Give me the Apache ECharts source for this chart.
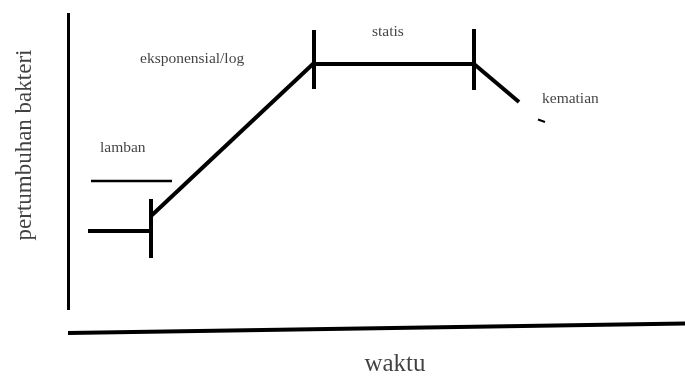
<!DOCTYPE html>
<html>
<head>
<meta charset="utf-8">
<script src="https://cdn.jsdelivr.net/npm/echarts@6/dist/echarts.min.js"></script>
<style>
  html, body { margin: 0; padding: 0; background: #fff; }
  #main { width: 685px; height: 376px; }
</style>
</head>
<body>
<div id="main"></div>
<script>
// sumbu (garis tangan, sumbu waktu agak miring)
var sumbuY = [[68.5, 13], [68.5, 310]];
var sumbuX = [[68, 333], [685, 323.5]];

// fase pertumbuhan
var faseLamban = [[88, 231], [151, 231]];
var garisLamban = [[91, 181], [172, 181]];
var faseEksponensial = [[151, 216], [314, 63]];
var faseStatis = [[312, 64], [474, 64]];
var faseKematian = [[474, 64], [519, 102]];
var sisaGaris = [[538, 119.5], [545, 122]];

// batas antar fase: x, y atas, y bawah
var batasFase = [[151, 199, 258], [314, 30, 89], [474, 29, 90]];

// label fase
var labelFase = ['lamban', 'eksponensial/log', 'statis', 'kematian'];
var posisiLabel = [[100, 148], [140, 59], [372, 32], [542, 99]];

var judulY = 'pertumbuhan bakteri';
var judulX = 'waktu';

var myChart = echarts.init(document.getElementById('main'));

function garis(data, lebar){
    return {
        type: 'line',
        data: data,
        showSymbol: false,
        symbol: 'none',
        silent: true,
        lineStyle: { color: '#000', width: lebar, cap: 'butt', join: 'miter' }
    };
}

var series = [
    garis(sumbuY, 3),
    garis(sumbuX, 4),
    garis(faseLamban, 4),
    garis(garisLamban, 2.5),
    garis(faseEksponensial, 4),
    garis(faseStatis, 4),
    garis(faseKematian, 4),
    garis(sisaGaris, 2)
];
batasFase.forEach(function(b){
    series.push(garis([[b[0], b[1]], [b[0], b[2]]], 4));
});

// teks label
var dataLabel = labelFase.map(function(t, i){
    return { value: posisiLabel[i], name: t };
});
series.push({
    type: 'scatter',
    symbolSize: 0,
    silent: true,
    data: dataLabel,
    label: {
        show: true,
        position: [0, 0],
        align: 'left',
        verticalAlign: 'middle',
        formatter: '{b}',
        fontFamily: 'Liberation Serif',
        fontSize: 15.5,
        color: '#111'
    }
});
series.push({
    type: 'scatter',
    symbolSize: 0,
    silent: true,
    data: [{ value: [395, 364], name: judulX }],
    label: {
        show: true, position: [0, 0], align: 'center', verticalAlign: 'middle',
        formatter: '{b}', fontFamily: 'Liberation Serif', fontSize: 25, color: '#111'
    }
});
series.push({
    type: 'scatter',
    symbolSize: 0,
    silent: true,
    data: [{ value: [25, 145], name: judulY }],
    label: {
        show: true, position: [0, 0], align: 'center', verticalAlign: 'middle', rotate: 90,
        formatter: '{b}', fontFamily: 'Liberation Serif', fontSize: 23, color: '#111'
    }
});

option = {
    animation: false,
    backgroundColor: '#fff',
    grid: { left: 0, right: 0, top: 0, bottom: 0 },
    xAxis: { type: 'value', min: 0, max: 685, show: false },
    yAxis: { type: 'value', min: 0, max: 376, inverse: true, show: false },
    series: series
};
myChart.setOption(option);
</script>
</body>
</html>
